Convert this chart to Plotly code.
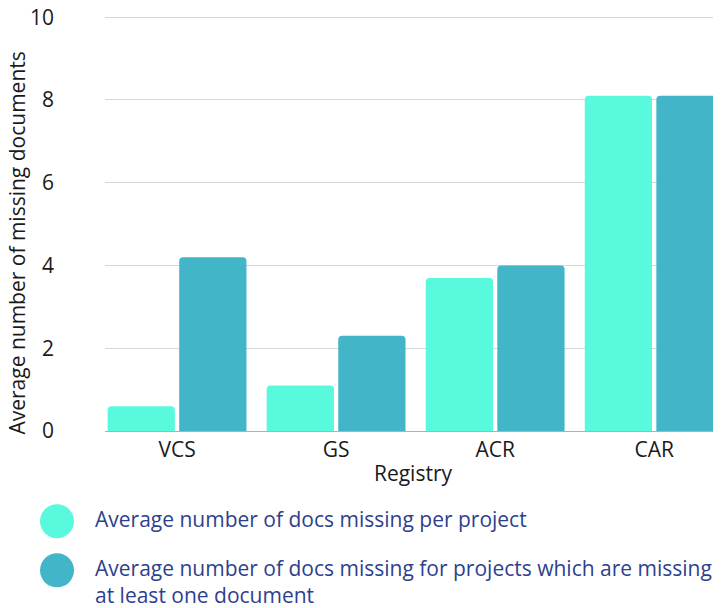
import plotly.graph_objects as go

# data
registries = ["VCS", "GS", "ACR", "CAR"]
avg_missing_per_project = [0.6, 1.1, 3.7, 8.1]
avg_missing_when_missing = [4.2, 2.3, 4.0, 8.1]
series_names = [
    "Average number of docs missing per project",
    "Average number of docs missing for projects which are missing<br>at least one document",
]
series_colors = ["#58F9DC", "#42B5C8"]
y_ticks = [0, 2, 4, 6, 8, 10]
y_title = "Average number of missing documents"

fig = go.Figure()

fig.add_trace(go.Bar(
    x=registries,
    y=avg_missing_per_project,
    name=series_names[0],
    marker=dict(color=series_colors[0], line=dict(width=0)),
))
fig.add_trace(go.Bar(
    x=registries,
    y=avg_missing_when_missing,
    name=series_names[1],
    marker=dict(color=series_colors[1], line=dict(width=0)),
))

# custom legend with big circles under the plot (paper coords, plot area = 616x414 px)
circle_y = [-0.2174, -0.3357]
text_y = [-0.2126, -0.3635]
for name, color, cy, ty in zip(series_names, series_colors, circle_y, text_y):
    fig.add_shape(type="circle", xref="paper", yref="paper",
                  x0=-0.1055, x1=-0.0503, y0=cy - 0.0411, y1=cy + 0.0411,
                  fillcolor=color, line=dict(width=0))
    fig.add_annotation(text=name, xref="paper", yref="paper",
                       x=-0.0195, y=ty, xanchor="left", yanchor="middle",
                       showarrow=False, align="left",
                       font=dict(size=21, color="#2E3F8E"))

# y axis title placed by hand (it sits a bit below the plot centre in the reference)
fig.add_annotation(text=y_title, xref="paper", yref="paper",
                   x=-0.1429, y=0.454, xanchor="center", yanchor="middle",
                   textangle=-90, showarrow=False,
                   font=dict(size=21, color="#1a1a1a"))

# page body adds an 8px offset, so the figure is 8px smaller than the window
fig.update_layout(
    width=713,
    height=600,
    margin=dict(l=97, r=0, t=8, b=177),
    paper_bgcolor="white",
    plot_bgcolor="white",
    font=dict(family="Open Sans", size=21, color="#1a1a1a"),
    barmode="group",
    bargap=0.1,
    bargroupgap=0.06,
    barcornerradius=4,
    showlegend=False,
    xaxis=dict(
        title=dict(text="Registry", standoff=4, font=dict(size=21)),
        range=[-0.453, 3.42],
        automargin=False,
        showgrid=False,
        showline=True,
        linecolor="#b0b0b0",
        linewidth=1,
        ticks="",
    ),
    yaxis=dict(
        range=[0, 10.03],
        tickvals=y_ticks,
        automargin=False,
        showgrid=True,
        gridcolor="#d6d6d6",
        gridwidth=1,
        zeroline=False,
        ticklabelstandoff=50,
        ticklabeloverflow="allow",
    ),
)

fig.write_html("out.html")
